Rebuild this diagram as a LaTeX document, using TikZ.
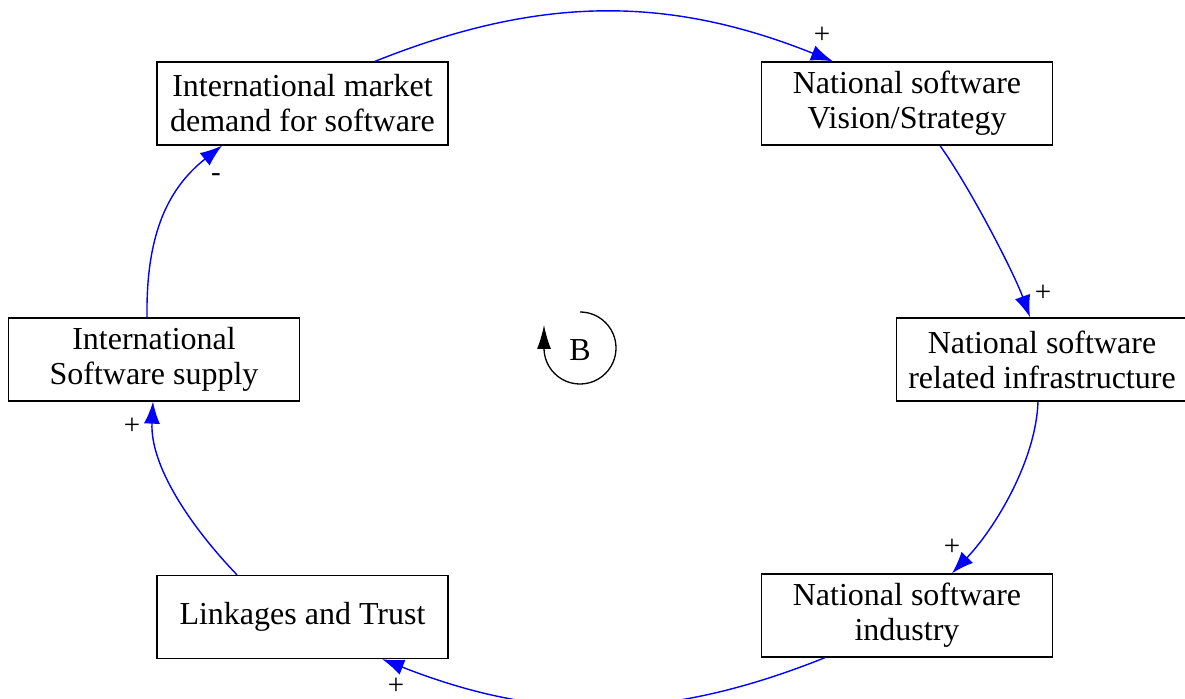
\documentclass[tikz,border=0pt]{standalone}
\usepackage{fontspec}
\setmainfont{Liberation Serif}
\usetikzlibrary{arrows.meta}
\begin{document}
\begin{tikzpicture}[x=0.5pt,y=-0.5pt,
		box/.style={draw=black,line width=0.65pt,minimum width=145.5pt,minimum height=41.5pt,align=center,inner sep=0pt,font=\fontsize{16}{17.5}\selectfont},
		link/.style={draw=blue,line width=0.7pt,-{Latex[length=11pt,width=8pt]}},
		sign/.style={inner sep=0pt,font=\fontsize{14.5}{17.5}\selectfont}]
		\useasboundingbox (0,0) rectangle (1185,699);
		%%%% Boxen
		\node[box] (demand) at (302.5,103.5) {International market\\demand for software};
		\node[box] (vision) at (907,103.5) {National software\\Vision/Strategy};
		\node[box] (infra) at (1042,359.5) {National software\\related infrastructure};
		\node[box] (industry) at (907,615.5) {National software\\industry};
		\node[box] (trust) at (302.5,617) {Linkages and Trust};
		\node[box] (supply) at (154,359.5) {International\\Software supply};
		%%%% Pfeile
		\draw[link] ([xshift=36.25pt]demand.north) .. controls +(165,-66) and +(-165,-66) .. ([xshift=-37pt]vision.north);
		\draw[link] ([xshift=16.5pt]vision.south) .. controls +(32,45) and +(-15,-42) .. ([xshift=-6pt]infra.north);
		\draw[link] ([xshift=-2pt]infra.south) .. controls +(-2,59) and +(43,-45) .. ([xshift=22.5pt]industry.north);
		\draw[link] ([xshift=-41pt]industry.south) .. controls +(-160,64) and +(160,63) .. ([xshift=39.75pt]trust.south);
		\draw[link] ([xshift=-32.75pt]trust.north) .. controls +(-47,-49) and +(-3,64) .. ([xshift=-0.5pt]supply.south);
		\draw[link] ([xshift=-3.5pt]supply.north) .. controls +(-1,-78) and +(-57,45) .. ([xshift=-40.25pt]demand.south);
		% Polaritaeten
		\node[sign] (p1) at (822,35) {+};
		\node[sign] (p2) at (1043,293) {+};
		\node[sign] (p3) at (952,547) {+};
		\node[sign] (p4) at (396,686) {+};
		\node[sign] (p5) at (132,426) {+};
		\node[sign] (p6) at (216,178) {-};
		%%%% Schleife B
		\node[sign,font=\fontsize{16}{17.5}\selectfont] (loop) at (580,350) {B};
		\draw[line width=0.65pt,-{Latex[length=12pt,width=7pt]}] (580,312) arc[start angle=90,end angle=-180,radius=18pt] -- ++(0,-23);
	\end{tikzpicture}
\end{document}
